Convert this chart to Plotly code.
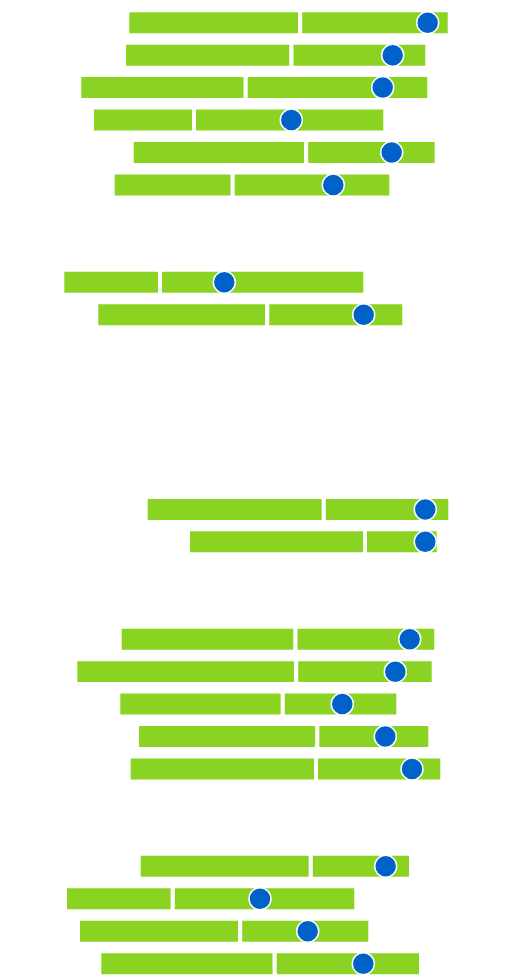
import plotly.graph_objects as go

# Row positions (empty rows between groups are simply absent)
rows = [0, 1, 2, 3, 4, 5, 8, 9, 15, 16, 19, 20, 21, 22, 23, 26, 27, 28, 29]
low = [127.3, 124, 79.3, 92, 131.7, 112.7, 62.3, 96.3, 145.7, 188,
       119.7, 75.3, 118.3, 137, 128.7, 138.7, 65, 78, 99.3]
mid = [300.2, 291.5, 245.7, 194, 306.2, 232.7, 160, 267.3, 323.8, 365,
       295.5, 296.2, 282.8, 317.3, 316, 310.8, 172.8, 240.2, 274.7]
high = [449.7, 427.3, 429.3, 385.3, 436.7, 391.3, 365.3, 404.3, 450.3, 438.7,
        436.3, 433.7, 398.3, 430.3, 442.3, 411, 356.3, 370.3, 421]
dot = [427.7, 392.7, 382.7, 291.3, 391.7, 333.3, 224.3, 363.7, 425.3, 425.3,
       409.7, 395.3, 342.3, 385.3, 412, 385.7, 260, 307.7, 363.3]

GREEN = "#8AD323"
BLUE = "#0062C8"

fig = go.Figure()
fig.add_trace(go.Bar(
    y=rows, x=[m - l for l, m in zip(low, mid)], base=low, orientation="h",
    width=0.77, marker=dict(color=GREEN, line=dict(color="white", width=4)),
    showlegend=False, hoverinfo="skip"))
fig.add_trace(go.Bar(
    y=rows, x=[h - m for m, h in zip(mid, high)], base=mid, orientation="h",
    width=0.77, marker=dict(color=GREEN, line=dict(color="white", width=4)),
    showlegend=False, hoverinfo="skip"))
fig.add_trace(go.Scatter(
    y=rows, x=dot, mode="markers",
    marker=dict(color=BLUE, size=22, line=dict(color="white", width=1.5)),
    showlegend=False))

fig.update_layout(
    width=524, height=975, margin=dict(l=0, r=0, t=0, b=0),
    barmode="overlay", plot_bgcolor="white", paper_bgcolor="white",
    xaxis=dict(range=[0, 524], visible=False, fixedrange=True),
    yaxis=dict(range=[29.35, -0.7], visible=False, fixedrange=True),
)
fig.write_html("out.html", config={"displayModeBar": False},
               post_script="document.body.style.margin='0';")
